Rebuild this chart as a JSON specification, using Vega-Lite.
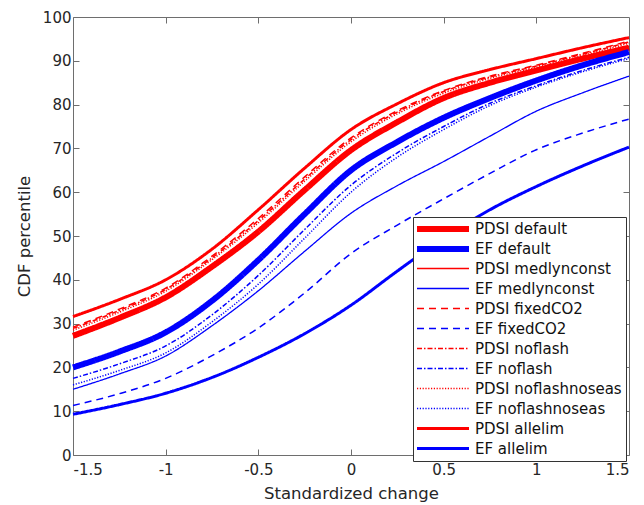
{
  "$schema": "https://vega.github.io/schema/vega-lite/v6.json",
  "width": 556,
  "height": 438,
  "autosize": "none",
  "padding": {"left": 73, "top": 17, "right": 15, "bottom": 50},
  "background": "white",
  "config": {
    "view": {"stroke": "#6e6e6e", "strokeWidth": 1},
    "font": "DejaVu Sans",
    "axis": {"grid": false, "domain": false, "tickColor": "#6e6e6e", "tickSize": -6, "labelColor": "#262626", "labelFontSize": 15, "titleColor": "#262626", "titleFontSize": 16.5, "titleFontWeight": "normal"},
    "legend": {"labelFont": "DejaVu Sans"}
  },
  "datasets": {
    "curves": [
      {"s": "PDSI default", "x": -1.5, "y": 27.2}, {"s": "PDSI default", "x": -1.25, "y": 31.3}, {"s": "PDSI default", "x": -1, "y": 36}, {"s": "PDSI default", "x": -0.75, "y": 43}, {"s": "PDSI default", "x": -0.5, "y": 51}, {"s": "PDSI default", "x": -0.25, "y": 60.5}, {"s": "PDSI default", "x": 0, "y": 69.6}, {"s": "PDSI default", "x": 0.25, "y": 76}, {"s": "PDSI default", "x": 0.5, "y": 81.5}, {"s": "PDSI default", "x": 0.75, "y": 85}, {"s": "PDSI default", "x": 1, "y": 87.8}, {"s": "PDSI default", "x": 1.25, "y": 90.5}, {"s": "PDSI default", "x": 1.5, "y": 93},
      {"s": "EF default", "x": -1.5, "y": 20}, {"s": "EF default", "x": -1.25, "y": 23.6}, {"s": "EF default", "x": -1, "y": 28}, {"s": "EF default", "x": -0.75, "y": 35.2}, {"s": "EF default", "x": -0.5, "y": 44.5}, {"s": "EF default", "x": -0.25, "y": 55}, {"s": "EF default", "x": 0, "y": 65}, {"s": "EF default", "x": 0.25, "y": 71.5}, {"s": "EF default", "x": 0.5, "y": 77}, {"s": "EF default", "x": 0.75, "y": 81.5}, {"s": "EF default", "x": 1, "y": 85.5}, {"s": "EF default", "x": 1.25, "y": 89}, {"s": "EF default", "x": 1.5, "y": 92},
      {"s": "PDSI medlynconst", "x": -1.5, "y": 27.6}, {"s": "PDSI medlynconst", "x": -1.25, "y": 31.7}, {"s": "PDSI medlynconst", "x": -1, "y": 36.4}, {"s": "PDSI medlynconst", "x": -0.75, "y": 43.5}, {"s": "PDSI medlynconst", "x": -0.5, "y": 51.5}, {"s": "PDSI medlynconst", "x": -0.25, "y": 61}, {"s": "PDSI medlynconst", "x": 0, "y": 70}, {"s": "PDSI medlynconst", "x": 0.25, "y": 76.4}, {"s": "PDSI medlynconst", "x": 0.5, "y": 81.8}, {"s": "PDSI medlynconst", "x": 0.75, "y": 85.3}, {"s": "PDSI medlynconst", "x": 1, "y": 88.1}, {"s": "PDSI medlynconst", "x": 1.25, "y": 90.8}, {"s": "PDSI medlynconst", "x": 1.5, "y": 93.3},
      {"s": "EF medlynconst", "x": -1.5, "y": 15}, {"s": "EF medlynconst", "x": -1.25, "y": 18.5}, {"s": "EF medlynconst", "x": -1, "y": 22.6}, {"s": "EF medlynconst", "x": -0.75, "y": 29.5}, {"s": "EF medlynconst", "x": -0.5, "y": 37.5}, {"s": "EF medlynconst", "x": -0.25, "y": 46.5}, {"s": "EF medlynconst", "x": 0, "y": 55.2}, {"s": "EF medlynconst", "x": 0.25, "y": 61.5}, {"s": "EF medlynconst", "x": 0.5, "y": 67}, {"s": "EF medlynconst", "x": 0.75, "y": 72.8}, {"s": "EF medlynconst", "x": 1, "y": 78.5}, {"s": "EF medlynconst", "x": 1.25, "y": 82.7}, {"s": "EF medlynconst", "x": 1.5, "y": 86.5},
      {"s": "PDSI fixedCO2", "x": -1.5, "y": 29.2}, {"s": "PDSI fixedCO2", "x": -1.25, "y": 33.3}, {"s": "PDSI fixedCO2", "x": -1, "y": 38.1}, {"s": "PDSI fixedCO2", "x": -0.75, "y": 45.4}, {"s": "PDSI fixedCO2", "x": -0.5, "y": 54}, {"s": "PDSI fixedCO2", "x": -0.25, "y": 63.5}, {"s": "PDSI fixedCO2", "x": 0, "y": 72.4}, {"s": "PDSI fixedCO2", "x": 0.25, "y": 78.6}, {"s": "PDSI fixedCO2", "x": 0.5, "y": 83.2}, {"s": "PDSI fixedCO2", "x": 0.75, "y": 86.5}, {"s": "PDSI fixedCO2", "x": 1, "y": 89}, {"s": "PDSI fixedCO2", "x": 1.25, "y": 91.7}, {"s": "PDSI fixedCO2", "x": 1.5, "y": 94.5},
      {"s": "EF fixedCO2", "x": -1.5, "y": 11.3}, {"s": "EF fixedCO2", "x": -1.25, "y": 14}, {"s": "EF fixedCO2", "x": -1, "y": 17.5}, {"s": "EF fixedCO2", "x": -0.75, "y": 22.7}, {"s": "EF fixedCO2", "x": -0.5, "y": 29}, {"s": "EF fixedCO2", "x": -0.25, "y": 37}, {"s": "EF fixedCO2", "x": 0, "y": 46}, {"s": "EF fixedCO2", "x": 0.25, "y": 52.5}, {"s": "EF fixedCO2", "x": 0.5, "y": 58.5}, {"s": "EF fixedCO2", "x": 0.75, "y": 64.3}, {"s": "EF fixedCO2", "x": 1, "y": 69.7}, {"s": "EF fixedCO2", "x": 1.25, "y": 73.5}, {"s": "EF fixedCO2", "x": 1.5, "y": 76.7},
      {"s": "PDSI noflash", "x": -1.5, "y": 28.9}, {"s": "PDSI noflash", "x": -1.25, "y": 33}, {"s": "PDSI noflash", "x": -1, "y": 37.8}, {"s": "PDSI noflash", "x": -0.75, "y": 45}, {"s": "PDSI noflash", "x": -0.5, "y": 53.5}, {"s": "PDSI noflash", "x": -0.25, "y": 63}, {"s": "PDSI noflash", "x": 0, "y": 72}, {"s": "PDSI noflash", "x": 0.25, "y": 78.3}, {"s": "PDSI noflash", "x": 0.5, "y": 83}, {"s": "PDSI noflash", "x": 0.75, "y": 86.3}, {"s": "PDSI noflash", "x": 1, "y": 88.8}, {"s": "PDSI noflash", "x": 1.25, "y": 91.5}, {"s": "PDSI noflash", "x": 1.5, "y": 94.3},
      {"s": "EF noflash", "x": -1.5, "y": 17.5}, {"s": "EF noflash", "x": -1.25, "y": 20.8}, {"s": "EF noflash", "x": -1, "y": 24.9}, {"s": "EF noflash", "x": -0.75, "y": 32}, {"s": "EF noflash", "x": -0.5, "y": 41}, {"s": "EF noflash", "x": -0.25, "y": 51.5}, {"s": "EF noflash", "x": 0, "y": 61.6}, {"s": "EF noflash", "x": 0.25, "y": 69}, {"s": "EF noflash", "x": 0.5, "y": 75}, {"s": "EF noflash", "x": 0.75, "y": 80.3}, {"s": "EF noflash", "x": 1, "y": 84.3}, {"s": "EF noflash", "x": 1.25, "y": 87.8}, {"s": "EF noflash", "x": 1.5, "y": 90.8},
      {"s": "PDSI noflashnoseas", "x": -1.5, "y": 28.5}, {"s": "PDSI noflashnoseas", "x": -1.25, "y": 32.6}, {"s": "PDSI noflashnoseas", "x": -1, "y": 37.4}, {"s": "PDSI noflashnoseas", "x": -0.75, "y": 44.6}, {"s": "PDSI noflashnoseas", "x": -0.5, "y": 53}, {"s": "PDSI noflashnoseas", "x": -0.25, "y": 62.5}, {"s": "PDSI noflashnoseas", "x": 0, "y": 71.5}, {"s": "PDSI noflashnoseas", "x": 0.25, "y": 77.9}, {"s": "PDSI noflashnoseas", "x": 0.5, "y": 82.6}, {"s": "PDSI noflashnoseas", "x": 0.75, "y": 86}, {"s": "PDSI noflashnoseas", "x": 1, "y": 88.5}, {"s": "PDSI noflashnoseas", "x": 1.25, "y": 91.2}, {"s": "PDSI noflashnoseas", "x": 1.5, "y": 94},
      {"s": "EF noflashnoseas", "x": -1.5, "y": 16}, {"s": "EF noflashnoseas", "x": -1.25, "y": 19.3}, {"s": "EF noflashnoseas", "x": -1, "y": 23.3}, {"s": "EF noflashnoseas", "x": -0.75, "y": 30.4}, {"s": "EF noflashnoseas", "x": -0.5, "y": 39}, {"s": "EF noflashnoseas", "x": -0.25, "y": 49.5}, {"s": "EF noflashnoseas", "x": 0, "y": 60}, {"s": "EF noflashnoseas", "x": 0.25, "y": 68}, {"s": "EF noflashnoseas", "x": 0.5, "y": 74.3}, {"s": "EF noflashnoseas", "x": 0.75, "y": 79.8}, {"s": "EF noflashnoseas", "x": 1, "y": 84}, {"s": "EF noflashnoseas", "x": 1.25, "y": 87.5}, {"s": "EF noflashnoseas", "x": 1.5, "y": 90.5},
      {"s": "PDSI allelim", "x": -1.5, "y": 31.6}, {"s": "PDSI allelim", "x": -1.25, "y": 35.5}, {"s": "PDSI allelim", "x": -1, "y": 40}, {"s": "PDSI allelim", "x": -0.75, "y": 47}, {"s": "PDSI allelim", "x": -0.5, "y": 56}, {"s": "PDSI allelim", "x": -0.25, "y": 65.5}, {"s": "PDSI allelim", "x": 0, "y": 74.3}, {"s": "PDSI allelim", "x": 0.25, "y": 80.2}, {"s": "PDSI allelim", "x": 0.5, "y": 85}, {"s": "PDSI allelim", "x": 0.75, "y": 88}, {"s": "PDSI allelim", "x": 1, "y": 90.5}, {"s": "PDSI allelim", "x": 1.25, "y": 93}, {"s": "PDSI allelim", "x": 1.5, "y": 95.3},
      {"s": "EF allelim", "x": -1.5, "y": 9.3}, {"s": "EF allelim", "x": -1.25, "y": 11.5}, {"s": "EF allelim", "x": -1, "y": 14.1}, {"s": "EF allelim", "x": -0.75, "y": 17.7}, {"s": "EF allelim", "x": -0.5, "y": 22.3}, {"s": "EF allelim", "x": -0.25, "y": 27.7}, {"s": "EF allelim", "x": 0, "y": 34.2}, {"s": "EF allelim", "x": 0.25, "y": 42}, {"s": "EF allelim", "x": 0.5, "y": 49.5}, {"s": "EF allelim", "x": 0.75, "y": 56}, {"s": "EF allelim", "x": 1, "y": 61.3}, {"s": "EF allelim", "x": 1.25, "y": 66}, {"s": "EF allelim", "x": 1.5, "y": 70.3}
    ]
  },
  "data": {"name": "curves"},
  "layer": [
    {
      "mark": {"type": "line", "interpolate": "monotone", "strokeCap": "butt"},
      "encoding": {
        "x": {"field": "x", "type": "quantitative", "scale": {"domain": [-1.5, 1.5], "nice": false, "zero": false}, "axis": {"orient": "bottom", "values": [-1.5, -1, -0.5, 0, 0.5, 1, 1.5], "labelExpr": "'' + datum.value", "labelPadding": 13, "title": "Standardized change", "titlePadding": 8}},
        "y": {"field": "y", "type": "quantitative", "scale": {"domain": [0, 100], "nice": false}, "axis": {"orient": "left", "values": [0, 10, 20, 30, 40, 50, 60, 70, 80, 90, 100], "labelPadding": 8, "title": "CDF percentile", "titlePadding": 10}},
        "color": {"field": "s", "type": "nominal", "scale": {"type": "ordinal", "domain": ["PDSI default", "EF default", "PDSI medlynconst", "EF medlynconst", "PDSI fixedCO2", "EF fixedCO2", "PDSI noflash", "EF noflash", "PDSI noflashnoseas", "EF noflashnoseas", "PDSI allelim", "EF allelim"], "range": ["#ff0000", "#0000ff", "#ff0000", "#0000ff", "#ff0000", "#0000ff", "#ff0000", "#0000ff", "#ff0000", "#0000ff", "#ff0000", "#0000ff"]},
          "legend": {"title": null, "orient": "none", "legendX": 340, "legendY": 200, "fillColor": "white", "strokeColor": "#333333", "padding": 4, "symbolType": "M-1.6,0H8.8", "symbolSize": 100, "labelFontSize": 15, "labelColor": "#111111", "labelOffset": 42, "rowPadding": -4.9, "gridAlign": "all", "labelLimit": 300}},
        "strokeDash": {"field": "s", "type": "nominal", "scale": {"type": "ordinal", "domain": ["PDSI default", "EF default", "PDSI medlynconst", "EF medlynconst", "PDSI fixedCO2", "EF fixedCO2", "PDSI noflash", "EF noflash", "PDSI noflashnoseas", "EF noflashnoseas", "PDSI allelim", "EF allelim"], "range": [[1, 0], [1, 0], [1, 0], [1, 0], [7, 5], [7, 5], [5, 2, 1.5, 2], [5, 2, 1.5, 2], [1.2, 1.6], [1.2, 1.6], [1, 0], [1, 0]]}},
        "strokeWidth": {"field": "s", "type": "nominal", "scale": {"type": "ordinal", "domain": ["PDSI default", "EF default", "PDSI medlynconst", "EF medlynconst", "PDSI fixedCO2", "EF fixedCO2", "PDSI noflash", "EF noflash", "PDSI noflashnoseas", "EF noflashnoseas", "PDSI allelim", "EF allelim"], "range": [6, 6, 1.3, 1.3, 1.5, 1.5, 1.5, 1.5, 1.5, 1.5, 3, 3]}}
      }
    },
    {
      "mark": {"type": "line", "opacity": 0},
      "encoding": {
        "x": {"field": "x", "type": "quantitative", "axis": {"orient": "top", "values": [-1, -0.5, 0, 0.5, 1], "labels": false, "title": null}},
        "y": {"field": "y", "type": "quantitative", "axis": {"orient": "right", "values": [10, 20, 30, 40, 50, 60, 70, 80, 90], "labels": false, "title": null}},
        "detail": {"field": "s"}
      }
    }
  ],
  "resolve": {"axis": {"x": "independent", "y": "independent"}}
}
